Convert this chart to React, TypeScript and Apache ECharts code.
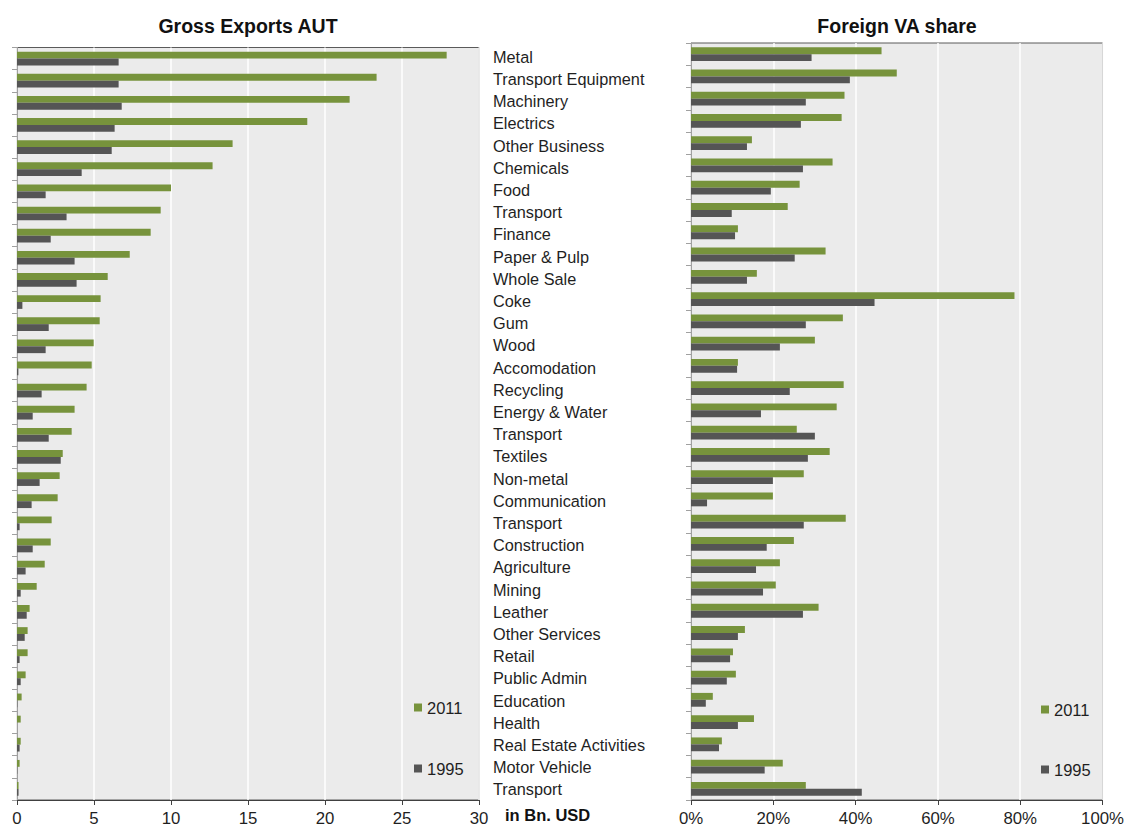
import React, { useEffect, useRef } from "react";
import * as echarts from "echarts";

const categories = [
  "Metal", "Transport Equipment", "Machinery", "Electrics", "Other Business",
  "Chemicals", "Food", "Transport", "Finance", "Paper & Pulp", "Whole Sale",
  "Coke", "Gum", "Wood", "Accomodation", "Recycling", "Energy & Water",
  "Transport", "Textiles", "Non-metal", "Communication", "Transport",
  "Construction", "Agriculture", "Mining", "Leather", "Other Services",
  "Retail", "Public Admin", "Education", "Health", "Real Estate Activities",
  "Motor Vehicle", "Transport",
];

const gross2011 = [27.9, 23.35, 21.6, 18.85, 14.0, 12.7, 10.0, 9.33, 8.68, 7.32, 5.89, 5.43, 5.37, 4.98, 4.85, 4.52, 3.74, 3.55, 2.97, 2.77, 2.64, 2.25, 2.19, 1.8, 1.28, 0.82, 0.69, 0.69, 0.56, 0.3, 0.24, 0.24, 0.17, 0.1];
const gross1995 = [6.6, 6.6, 6.8, 6.34, 6.15, 4.2, 1.86, 3.22, 2.19, 3.74, 3.87, 0.35, 2.06, 1.86, 0.09, 1.6, 1.02, 2.06, 2.84, 1.47, 0.95, 0.17, 1.02, 0.56, 0.24, 0.63, 0.5, 0.17, 0.24, 0.02, 0.0, 0.17, 0.02, 0.1];

const fva2011 = [46.3, 50.0, 37.3, 36.6, 14.8, 34.4, 26.4, 23.5, 11.4, 32.7, 16.0, 78.6, 36.9, 30.1, 11.4, 37.1, 35.4, 25.7, 33.7, 27.4, 19.9, 37.6, 25.0, 21.6, 20.6, 31.0, 13.1, 10.2, 10.9, 5.3, 15.3, 7.5, 22.3, 27.9];
const fva1995 = [29.3, 38.6, 27.9, 26.7, 13.6, 27.2, 19.4, 9.9, 10.7, 25.2, 13.6, 44.6, 27.9, 21.6, 11.2, 24.0, 17.0, 30.1, 28.4, 19.9, 3.9, 27.4, 18.4, 15.8, 17.5, 27.2, 11.4, 9.5, 8.7, 3.6, 11.4, 6.8, 17.9, 41.5];

const grossTicks = { min: 0, max: 30, interval: 5 };
const shareTicks = { min: 0, max: 100, interval: 20 };

const GREEN = "#77933C";
const DARK = "#555555";
const FONT = "Liberation Sans, Arial, sans-serif";
const TEXT = "#1f1f1f";

export default function App() {
  const ref = useRef<HTMLDivElement>(null);

  useEffect(() => {
    if (!ref.current) return;
    const chart = echarts.init(ref.current, undefined, { renderer: "svg" });

    const valueAxisBase = {
      type: "value",
      splitLine: { show: true, lineStyle: { color: "#ffffff", width: 1.5 } },
      axisLine: { show: true, lineStyle: { color: "#404040", width: 1 } },
      axisTick: { show: true, length: 5, lineStyle: { color: "#404040" } },
      axisLabel: { fontFamily: FONT, fontSize: 16.8, color: TEXT, margin: 10 },
    };
    const catAxisBase = {
      type: "category",
      data: categories,
      inverse: true,
      axisLine: { show: true, lineStyle: { color: "#a0a0a0" } },
      axisTick: { show: true, length: 5, lineStyle: { color: "#a0a0a0" } },
      axisLabel: { show: false },
    };

    const barStyle = (color: string) => ({ color });

    const legendBase = {
      orient: "vertical",
      icon: "rect",
      itemWidth: 8,
      itemHeight: 8,
      padding: 0,
      textStyle: { fontFamily: FONT, fontSize: 16.5, color: TEXT },
    };

    chart.setOption({
      animation: false,
      grid: [
        { left: 17, top: 47.5, width: 462, height: 752.5, show: true, backgroundColor: "#EBEBEB", borderColor: "#5a5a5a", borderWidth: 1 },
        { left: 691, top: 43, width: 412.5, height: 757, show: true, backgroundColor: "#EBEBEB", borderColor: "#5a5a5a", borderWidth: 1 },
        { left: 493, top: 45.6, width: 180, height: 755, show: false },
      ],
      xAxis: [
        { ...valueAxisBase, gridIndex: 0, ...grossTicks },
        { ...valueAxisBase, gridIndex: 1, ...shareTicks, axisLabel: { ...valueAxisBase.axisLabel, formatter: "{value}%" } },
        { type: "value", gridIndex: 2, show: false, min: 0, max: 1 },
      ],
      yAxis: [
        { ...catAxisBase, gridIndex: 0 },
        { ...catAxisBase, gridIndex: 1 },
        {
          type: "category",
          gridIndex: 2,
          data: categories,
          inverse: true,
          axisLine: { show: false },
          axisTick: { show: false },
          axisLabel: { show: true, inside: true, margin: 0, fontFamily: FONT, fontSize: 16.3, color: TEXT, interval: 0 },
        },
      ],
      legend: [
        { ...legendBase, data: ["2011"], left: 414, top: 699 },
        { ...legendBase, data: ["1995"], left: 414, top: 760 },
        { ...legendBase, data: ["2011"], left: 1041, top: 701 },
        { ...legendBase, data: ["1995"], left: 1041, top: 761 },
      ],
      series: [
        { name: "2011", type: "bar", xAxisIndex: 0, yAxisIndex: 0, data: gross2011, barCategoryGap: "38%", barGap: "0%", itemStyle: barStyle(GREEN) },
        { name: "1995", type: "bar", xAxisIndex: 0, yAxisIndex: 0, data: gross1995, barCategoryGap: "38%", barGap: "0%", itemStyle: barStyle(DARK) },
        { name: "2011", type: "bar", xAxisIndex: 1, yAxisIndex: 1, data: fva2011, barCategoryGap: "38%", barGap: "0%", itemStyle: barStyle(GREEN) },
        { name: "1995", type: "bar", xAxisIndex: 1, yAxisIndex: 1, data: fva1995, barCategoryGap: "38%", barGap: "0%", itemStyle: barStyle(DARK) },
      ],
      graphic: [
        { type: "text", x: 248, y: 26, style: { text: "Gross Exports AUT", font: `bold 19.5px ${FONT}`, fill: "#111", textAlign: "center", textVerticalAlign: "middle" } },
        { type: "text", x: 897, y: 26, style: { text: "Foreign VA share", font: `bold 19.5px ${FONT}`, fill: "#111", textAlign: "center", textVerticalAlign: "middle" } },
        { type: "text", x: 505, y: 815, style: { text: "in Bn. USD", font: `bold 16.5px ${FONT}`, fill: "#111", textAlign: "left", textVerticalAlign: "middle" } },
      ],
    });

    return () => chart.dispose();
  }, []);

  return (
    <div
      ref={ref}
      style={{ position: "fixed", left: 0, top: 0, width: 1127, height: 830, background: "#ffffff" }}
    />
  );
}
